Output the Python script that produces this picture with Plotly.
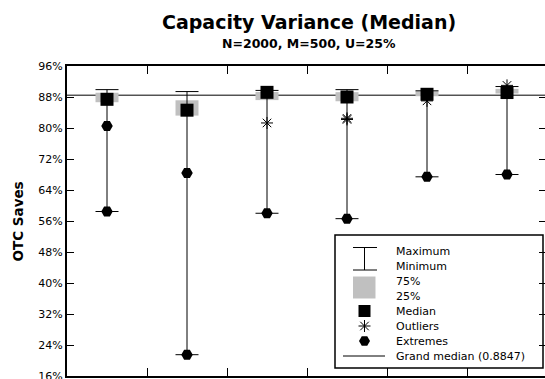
import plotly.graph_objects as go

# ---------------- data (values in %) ----------------
categories = ["1", "2", "3", "4", "5", "6"]
maximum = [89.9, 89.4, 89.7, 89.9, 89.6, 90.7]
q3 = [89.1, 87.15, 89.3, 89.25, 89.5, 90.1]
median = [87.4, 84.6, 89.2, 88.0, 88.7, 89.15]
q1 = [86.65, 83.2, 87.2, 86.9, 88.2, 88.9]
minimum = [58.45, 21.5, 58.0, 56.6, 67.4, 68.0]
outlier_cat = ["3", "4", "4", "5", "6"]
outlier_val = [81.3, 82.2, 82.5, 87.0, 91.0]
extreme_cat = ["1", "1", "2", "2", "3", "4", "5", "6"]
extreme_val = [80.5, 58.45, 68.4, 21.5, 58.0, 56.6, 67.4, 68.0]
grand_median = 88.47
y_ticks = [16, 24, 32, 40, 48, 56, 64, 72, 80, 88, 96]
y_tick_text = [f"{v}%" for v in y_ticks]
legend_labels = ["Maximum", "Minimum", "75%", "25%", "Median", "Outliers",
                 "Extremes", "Grand median (0.8847)"]
title = "Capacity Variance (Median)"
subtitle = "N=2000, M=500, U=25%"
y_title = "OTC Saves"

FONT = "DejaVu Sans"
W, H = 545, 379
ML, MR, MT, MB = 67, 0, 66, 3
GRAY = "#c0c0c0"
PW, PH = W - ML - MR, H - MT - MB


def px(xp):
    return (xp - ML) / PW


def py(yp):
    return (H - MB - yp) / PH


fig = go.Figure()

# whiskers with caps at both ends
fig.add_trace(go.Scatter(
    x=categories, y=minimum, mode="markers",
    marker=dict(size=1, color="rgba(0,0,0,0)"),
    error_y=dict(type="data", symmetric=False,
                 array=[mx - mn for mx, mn in zip(maximum, minimum)],
                 arrayminus=[0] * len(minimum),
                 width=11.5, thickness=1, color="black"),
    hoverinfo="skip"))

# 25%-75% boxes
fig.add_trace(go.Bar(
    x=categories, y=[a - b for a, b in zip(q3, q1)], base=q1,
    width=0.2875, marker=dict(color=GRAY, line=dict(width=0))))

# medians
fig.add_trace(go.Scatter(
    x=categories, y=median, mode="markers",
    marker=dict(symbol="square", size=13, color="black")))

# outliers
fig.add_trace(go.Scatter(
    x=outlier_cat, y=outlier_val, mode="markers",
    marker=dict(symbol="asterisk-open", size=10, color="black",
                line=dict(color="black", width=1))))

# extremes
fig.add_trace(go.Scatter(
    x=extreme_cat, y=extreme_val, mode="markers",
    marker=dict(symbol="hexagon2", size=11.5, color="black")))

# dummy trace so the right tick axis is rendered
fig.add_trace(go.Scatter(x=categories[:1], y=[grand_median], yaxis="y2",
                         mode="markers", marker=dict(opacity=0),
                         hoverinfo="skip"))

# ---------------- legend (pixel-coordinate overlay axes) ----------------
leg_left, leg_right, leg_top, leg_bottom = 335, 543, 235, 368
row_y = [251 + 15 * i for i in range(len(legend_labels))]
sym_x = 364.5
text_x = 394

fig.add_trace(go.Scatter(
    x=[sym_x], y=[row_y[4]], xaxis="x2", yaxis="y3", mode="markers",
    marker=dict(symbol="square", size=12, color="black"), hoverinfo="skip"))
fig.add_trace(go.Scatter(
    x=[sym_x], y=[row_y[5]], xaxis="x2", yaxis="y3", mode="markers",
    marker=dict(symbol="asterisk-open", size=10, color="black",
                line=dict(color="black", width=1)), hoverinfo="skip"))
fig.add_trace(go.Scatter(
    x=[sym_x], y=[row_y[6]], xaxis="x2", yaxis="y3", mode="markers",
    marker=dict(symbol="hexagon2", size=11, color="black"), hoverinfo="skip"))

shapes = [
    # grand median line
    dict(type="line", xref="paper", x0=0, x1=1, yref="y",
         y0=grand_median, y1=grand_median, line=dict(color="black", width=1),
         layer="below"),
    # legend frame
    dict(type="rect", xref="x2", yref="y3", x0=leg_left, x1=leg_right,
         y0=leg_top, y1=leg_bottom, fillcolor="white",
         line=dict(color="black", width=1.5), layer="below"),
    # I-beam
    dict(type="line", xref="x2", yref="y3", x0=353, x1=377, y0=247.5, y1=247.5,
         line=dict(color="black", width=1)),
    dict(type="line", xref="x2", yref="y3", x0=353, x1=377, y0=270, y1=270,
         line=dict(color="black", width=1)),
    dict(type="line", xref="x2", yref="y3", x0=sym_x, x1=sym_x, y0=247.5, y1=270,
         line=dict(color="black", width=1)),
    # gray box
    dict(type="rect", xref="x2", yref="y3", x0=353, x1=375.5, y0=276.5, y1=298.5,
         fillcolor=GRAY, line=dict(width=0)),
    # grand median sample
    dict(type="line", xref="x2", yref="y3", x0=343, x1=385,
         y0=row_y[7], y1=row_y[7], line=dict(color="black", width=1)),
]

annotations = [
    dict(text=f"<b>{title}</b>", xref="paper", yref="paper", x=px(309), y=py(22),
         showarrow=False, font=dict(family=FONT, size=19, color="black"),
         xanchor="center", yanchor="middle"),
    dict(text=f"<b>{subtitle}</b>", xref="paper", yref="paper", x=px(309), y=py(44),
         showarrow=False, font=dict(family=FONT, size=12.5, color="black"),
         xanchor="center", yanchor="middle"),
    dict(text=f"<b>{y_title}</b>", xref="paper", yref="paper", x=px(17.5), y=py(222),
         textangle=-90, showarrow=False,
         font=dict(family=FONT, size=13.5, color="black"),
         xanchor="center", yanchor="middle"),
]
for lab, yy in zip(legend_labels, row_y):
    annotations.append(dict(text=lab, xref="x2", yref="y3", x=text_x, y=yy,
                            showarrow=False, xanchor="left", yanchor="middle",
                            font=dict(family=FONT, size=11, color="black")))

fig.update_layout(
    width=W, height=H,
    margin=dict(l=ML, r=MR, t=MT, b=MB, pad=0, autoexpand=False),
    paper_bgcolor="white", plot_bgcolor="white",
    showlegend=False, barmode="overlay",
    font=dict(family=FONT, size=11, color="black"),
    xaxis=dict(type="category", categoryorder="array", categoryarray=categories,
               range=[-0.5, -0.5 + PW / 80.0], automargin=False,
               showticklabels=False, ticks="inside", tickson="boundaries",
               ticklen=8, tickwidth=1, tickcolor="black",
               showline=True, linewidth=2, linecolor="black", mirror="ticks",
               showgrid=False, zeroline=False),
    yaxis=dict(range=[16, 96], tickvals=y_ticks, ticktext=y_tick_text,
               automargin=False,
               ticks="inside", ticklen=7, tickwidth=1, tickcolor="black",
               showline=True, linewidth=2, linecolor="black",
               showgrid=False, zeroline=False, ticklabeloverflow="allow",
               tickfont=dict(family=FONT, size=11, color="black")),
    yaxis2=dict(overlaying="y", side="right", anchor="x", range=[16, 96],
                automargin=False,
                tickvals=y_ticks, ticks="inside", ticklen=6, tickwidth=1,
                tickcolor="black", showticklabels=False, showline=False,
                showgrid=False, zeroline=False),
    xaxis2=dict(overlaying="x", range=[ML, W - MR], visible=False,
                anchor="y3", automargin=False),
    yaxis3=dict(overlaying="y", range=[H - MB, MT], visible=False,
                anchor="x2", automargin=False),
    shapes=shapes, annotations=annotations,
)

fig.write_html("out.html")
